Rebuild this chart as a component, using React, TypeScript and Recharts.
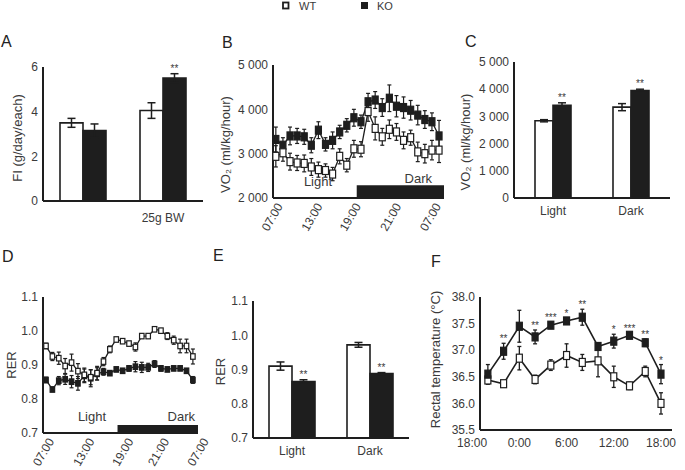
import React from "react";
import {
  BarChart, Bar, LineChart, Line, XAxis, YAxis, ErrorBar, LabelList, ReferenceArea,
} from "recharts";

const INK = "#1e1e1e";
const TXT = "#3a3a3a";
const FONT = "'Liberation Sans', Arial, sans-serif";

// A: food intake
const A_CATS = ["", "25g BW"];
const A_WT = [3.5, 4.05];
const A_WT_ERR = [0.2, 0.35];
const A_KO = [3.15, 5.5];
const A_KO_ERR = [0.3, 0.2];
const A_SIG = ["", "**"];

// B: VO2 over 24 h (hourly, 07:00 -> 07:00)
const B_WT = [2940, 3020, 2820, 2790, 2780, 2700, 2640, 2620, 2540, 2940, 2740, 3110,
  3100, 3950, 3570, 3380, 3550, 3490, 3300, 3360, 3040, 3000, 3080, 3080];
const B_WT_ERR = [240, 190, 190, 170, 190, 190, 170, 150, 150, 170, 150, 190,
  170, 220, 260, 190, 210, 190, 190, 170, 220, 210, 220, 280];
const B_KO = [3320, 3190, 3400, 3400, 3380, 3190, 3530, 3210, 3300, 3490, 3640, 3810,
  3720, 4170, 4210, 4040, 4250, 4070, 4040, 3980, 3870, 3770, 3720, 3400];
const B_KO_ERR = [280, 170, 200, 170, 170, 170, 190, 150, 190, 150, 150, 190,
  150, 190, 190, 200, 300, 240, 240, 220, 220, 200, 200, 350];
const B_XLABELS = ["07:00", "13:00", "19:00", "21:00", "07:00"];
const B_XLABEL_AT = [0.1, 5.7, 11.1, 16.8, 22.4];
const B_DARK_START = 11.4;

// C: VO2 light / dark
const C_CATS = ["Light", "Dark"];
const C_WT = [2840, 3340];
const C_WT_ERR = [40, 130];
const C_KO = [3410, 3950];
const C_KO_ERR = [90, 50];
const C_SIG = ["**", "**"];

// D: RER over 24 h
const D_WT = [0.956, 0.925, 0.92, 0.897, 0.907, 0.882, 0.871, 0.864, 0.876, 0.91, 0.946, 0.975,
  0.97, 0.963, 0.953, 0.985, 0.985, 1.005, 1.001, 0.985, 0.973, 0.956, 0.956, 0.925];
const D_WT_ERR = [0.008, 0.012, 0.018, 0.022, 0.025, 0.022, 0.02, 0.022, 0.02, 0.012, 0.01, 0.006,
  0.006, 0.006, 0.012, 0.006, 0.006, 0.006, 0.006, 0.01, 0.012, 0.02, 0.02, 0.022];
const D_KO = [0.856, 0.828, 0.854, 0.858, 0.851, 0.846, 0.868, 0.861, 0.874, 0.88, 0.876, 0.887,
  0.883, 0.89, 0.895, 0.893, 0.893, 0.903, 0.89, 0.887, 0.89, 0.89, 0.883, 0.856];
const D_KO_ERR = [0.008, 0.006, 0.012, 0.015, 0.018, 0.02, 0.02, 0.025, 0.018, 0.01, 0.006, 0.006,
  0.006, 0.008, 0.015, 0.015, 0.012, 0.01, 0.008, 0.006, 0.006, 0.006, 0.006, 0.01];
const D_XLABELS = ["07:00", "13:00", "19:00", "21:00", "07:00"];
const D_XLABEL_AT = [0.3, 6.6, 12.7, 18.3, 24.5];
const D_DARK_START = 11.2;

// E: RER light / dark
const E_CATS = ["Light", "Dark"];
const E_WT = [0.91, 0.972];
const E_WT_ERR = [0.012, 0.007];
const E_KO = [0.865, 0.888];
const E_KO_ERR = [0.005, 0.003];
const E_SIG = ["**", "**"];

// F: rectal temperature, every 2 h (hours after 18:00)
const F_HOURS = [2, 4, 6, 8, 10, 12, 14, 16, 18, 20, 22, 24];
const F_WT = [36.44, 36.37, 36.85, 36.45, 36.72, 36.9, 36.77, 36.8, 36.5, 36.33, 36.6, 36.0];
const F_WT_ERR = [0.08, 0.05, 0.22, 0.08, 0.1, 0.22, 0.15, 0.3, 0.2, 0.07, 0.1, 0.2];
const F_KO = [36.55, 36.98, 37.45, 37.25, 37.47, 37.55, 37.62, 37.07, 37.17, 37.28, 37.14, 36.55];
const F_KO_ERR = [0.18, 0.15, 0.3, 0.13, 0.06, 0.06, 0.15, 0.06, 0.13, 0.05, 0.07, 0.18];
const F_SIG = ["", "**", "", "**", "***", "*", "**", "", "*", "***", "**", "*"];
const F_XLABELS = ["18:00", "0:00", "6:00", "12:00", "18:00"];
const F_XLABEL_AT = [0, 6, 12, 18, 24];
const F_MINOR = [1, 3, 5, 7, 9, 11, 13, 15, 17, 19, 21, 23, 25];

const fmtK = (v: number) => (v === 0 ? "0" : `${Math.floor(v / 1000)} ${String(v % 1000).padStart(3, "0")}`);
const fmt1 = (v: number) => v.toFixed(1);

const axisLine = { stroke: INK, strokeWidth: 2 };
const tickStyle = { fontSize: 12, fill: TXT, fontFamily: FONT };

const square = (w: number, h: number, fill: string) => (p: any) =>
  p.cx == null ? <g key={`d${p.index}`} /> : (
    <rect key={`d${p.index}`} x={p.cx - w / 2} y={p.cy - h / 2} width={w} height={h}
      fill={fill} stroke={INK} strokeWidth={1.2} />
  );

const barStars = (vals: number[], errs: number[], sigs: string[], base: number) => (p: any) => {
  const vb = p.viewBox || p;
  const i = p.index;
  if (!sigs[i]) return null;
  const ppu = vb.height / (vals[i] - base);
  return (
    <text key={`s${i}`} x={vb.x + vb.width / 2} y={vb.y - errs[i] * ppu - 2} textAnchor="middle"
      fontSize={10} fill={TXT} fontFamily={FONT}>{sigs[i]}</text>
  );
};

function BarPanel(props: any) {
  const { cats, wt, wtErr, ko, koErr, sig, domain, ticks, fmt, yLabel, labelDy, labelX,
    left, top, width, height, margin, yW, xH, barSize, xTickSize, xTickMargin } = props;
  const rows = cats.map((c: string, i: number) => ({ cat: c, wt: wt[i], wtErr: wtErr[i], ko: ko[i], koErr: koErr[i] }));
  return (
    <div style={{ position: "absolute", left, top }}>
      <BarChart width={width} height={height} data={rows} margin={margin} barGap={0} barSize={barSize}>
        {/* small upward ticks on the group boundaries */}
        <XAxis xAxisId="b" type="number" domain={[0, cats.length]} ticks={cats.map((_: string, i: number) => i + 1)}
          interval={0} tick={false} mirror tickSize={4} height={0} axisLine={false}
          tickLine={{ stroke: INK, strokeWidth: 1.5 }} />
        <XAxis dataKey="cat" tickLine={false} axisLine={axisLine} tick={tickStyle} height={xH}
          tickSize={xTickSize} tickMargin={xTickMargin} />
        <YAxis domain={domain} ticks={ticks} tickFormatter={fmt} width={yW} tickLine={false}
          axisLine={axisLine} tick={tickStyle} tickSize={3} tickMargin={2} interval={0}
          label={{ value: yLabel, angle: -90, position: "insideLeft", offset: labelX, dy: labelDy,
            style: { textAnchor: "middle", fontSize: 13, fill: TXT, fontFamily: FONT } }} />
        <Bar dataKey="wt" fill="#fff" stroke={INK} strokeWidth={1.6} isAnimationActive={false}>
          <ErrorBar dataKey="wtErr" width={4} stroke={INK} strokeWidth={1.5} />
        </Bar>
        <Bar dataKey="ko" fill={INK} stroke={INK} strokeWidth={1.6} isAnimationActive={false}>
          <ErrorBar dataKey="koErr" width={4} stroke={INK} strokeWidth={1.5} />
          <LabelList dataKey="ko" content={barStars(ko, koErr, sig, domain[0])} />
        </Bar>
      </BarChart>
    </div>
  );
}

const rotTick = (labels: string[]) => (p: any) => (
  <text key={`t${p.index}`} x={p.x + 3} y={p.y} transform={`rotate(-60 ${p.x + 3} ${p.y})`}
    textAnchor="end" dy="0.35em" fontSize={12} fill={TXT} fontFamily={FONT}>{labels[p.index]}</text>
);

function TimePanel(props: any) {
  const { wt, wtErr, ko, koErr, xDomain, labelAt, labels, minor, darkStart, darkTop,
    yDomain, yTicks, fmt, yLabel, labelDy, labelX, mw, mh,
    left, top, width, height, margin, yW, xH } = props;
  const rows = wt.map((v: number, i: number) => ({ i, wt: v, wtErr: wtErr[i], ko: ko[i], koErr: koErr[i] }));
  return (
    <div style={{ position: "absolute", left, top }}>
      <LineChart width={width} height={height} data={rows} margin={margin}>
        <XAxis xAxisId="m" type="number" dataKey="i" domain={xDomain} ticks={minor} interval={0}
          tick={false} mirror tickSize={3} height={0} axisLine={false}
          tickLine={{ stroke: INK, strokeWidth: 1.2 }} />
        <XAxis xAxisId="l" type="number" dataKey="i" domain={xDomain} ticks={labelAt} interval={0}
          tick={rotTick(labels)} tickLine={false} tickSize={0} tickMargin={6} height={xH}
          axisLine={axisLine} />
        <YAxis domain={yDomain} ticks={yTicks} tickFormatter={fmt} width={yW} tickLine={false}
          axisLine={axisLine} tick={tickStyle} tickSize={3} tickMargin={2} interval={0}
          label={{ value: yLabel, angle: -90, position: "insideLeft", offset: labelX, dy: labelDy,
            style: { textAnchor: "middle", fontSize: 13, fill: TXT, fontFamily: FONT } }} />
        <ReferenceArea xAxisId="l" x1={darkStart} x2={xDomain[1]} y1={yDomain[0]} y2={darkTop}
          fill={INK} fillOpacity={1} stroke="none" />
        <Line xAxisId="l" dataKey="ko" stroke={INK} strokeWidth={1.3} dot={square(mw, mh, INK)}
          activeDot={false} isAnimationActive={false}>
          <ErrorBar dataKey="koErr" width={2} stroke={INK} strokeWidth={1.2} />
        </Line>
        <Line xAxisId="l" dataKey="wt" stroke={INK} strokeWidth={1.3} dot={square(mw, mh, "#fff")}
          activeDot={false} isAnimationActive={false}>
          <ErrorBar dataKey="wtErr" width={2} stroke={INK} strokeWidth={1.2} />
        </Line>
      </LineChart>
    </div>
  );
}

function TempPanel() {
  const rows = F_HOURS.map((h, i) => ({
    h, wt: F_WT[i], wtErr: F_WT_ERR[i], ko: F_KO[i], koErr: F_KO_ERR[i], koTop: F_KO[i] + F_KO_ERR[i],
  }));
  const dom = [1, 25.4];
  const stars = (p: any) => {
    const vb = p.viewBox || p;
    const x = p.x ?? vb.x;
    const y = p.y ?? vb.y;
    const s = F_SIG[p.index];
    if (!s) return null;
    return <text key={`fs${p.index}`} x={x} y={y - 1} textAnchor="middle" fontSize={10} fill={TXT}
      fontFamily={FONT}>{s}</text>;
  };
  return (
    <div style={{ position: "absolute", left: 420, top: 287 }}>
      <LineChart width={265} height={183} data={rows} margin={{ top: 10, right: 13, bottom: 0, left: 0 }}>
        <XAxis xAxisId="m" type="number" dataKey="h" domain={dom} ticks={F_MINOR} interval={0}
          tick={false} mirror tickSize={5} height={0} axisLine={false}
          tickLine={{ stroke: INK, strokeWidth: 2 }} />
        <XAxis xAxisId="l" type="number" dataKey="h" domain={dom} ticks={F_XLABEL_AT} interval={0}
          tickFormatter={(_: any, i: number) => F_XLABELS[i]} tick={tickStyle} tickLine={false}
          tickSize={0} tickMargin={8} height={40} axisLine={axisLine} />
        <YAxis domain={[35.5, 38]} ticks={[35.5, 36, 36.5, 37, 37.5, 38]} tickFormatter={fmt1} width={60}
          tickLine={false} axisLine={axisLine} tick={tickStyle} tickSize={3} tickMargin={2} interval={0}
          label={{ value: "Rectal temperature (°C)", angle: -90, position: "insideLeft", offset: 15, dy: -4,
            style: { textAnchor: "middle", fontSize: 13, fill: TXT, fontFamily: FONT } }} />
        <Line xAxisId="l" dataKey="wt" stroke={INK} strokeWidth={1.6} dot={square(6, 8, "#fff")}
          activeDot={false} isAnimationActive={false}>
          <ErrorBar dataKey="wtErr" width={2} stroke={INK} strokeWidth={1.3} />
        </Line>
        <Line xAxisId="l" dataKey="ko" stroke={INK} strokeWidth={1.6} dot={square(6, 8, INK)}
          activeDot={false} isAnimationActive={false}>
          <ErrorBar dataKey="koErr" width={2} stroke={INK} strokeWidth={1.3} />
        </Line>
        <Line xAxisId="l" dataKey="koTop" stroke="none" dot={false} activeDot={false} isAnimationActive={false}>
          <LabelList dataKey="koTop" content={stars} />
        </Line>
      </LineChart>
    </div>
  );
}

export default function App() {
  const letter = { fontSize: 16, fill: "#222", fontFamily: FONT };
  const note = { fontSize: 13, fill: TXT, fontFamily: FONT };
  return (
    <div style={{ position: "absolute", left: 0, top: 0, width: 685, height: 470, background: "#fff", overflow: "hidden" }}>
      <BarPanel cats={A_CATS} wt={A_WT} wtErr={A_WT_ERR} ko={A_KO} koErr={A_KO_ERR} sig={A_SIG}
        domain={[0, 6]} ticks={[0, 2, 4, 6]} fmt={(v: number) => String(v)} yLabel="FI (g/day/each)"
        labelX={17} labelDy={4} left={0} top={60} width={215} height={170}
        margin={{ top: 7, right: 12, bottom: 0, left: 0 }} yW={43} xH={29} barSize={23}
        xTickSize={6} xTickMargin={6} />
      <TimePanel wt={B_WT} wtErr={B_WT_ERR} ko={B_KO} koErr={B_KO_ERR} xDomain={[-0.4, 23.7]}
        labelAt={B_XLABEL_AT} labels={B_XLABELS} minor={Array.from({ length: 14 }, (_, k) => k * 0.82)}
        darkStart={B_DARK_START} darkTop={2290} yDomain={[2000, 5000]} yTicks={[2000, 3000, 4000, 5000]}
        fmt={fmtK} yLabel="VO₂ (ml/kg/hour)" labelX={10} labelDy={13} mw={6} mh={8}
        left={215} top={55} width={240} height={190} margin={{ top: 10, right: 11, bottom: 0, left: 0 }}
        yW={58} xH={47} />
      <BarPanel cats={C_CATS} wt={C_WT} wtErr={C_WT_ERR} ko={C_KO} koErr={C_KO_ERR} sig={C_SIG}
        domain={[0, 5000]} ticks={[0, 1000, 2000, 3000, 4000, 5000]} fmt={fmtK} yLabel="VO₂ (ml/kg/hour)"
        labelX={10} labelDy={12} left={455} top={52} width={225} height={175}
        margin={{ top: 10, right: 10, bottom: 0, left: 0 }} yW={59} xH={29} barSize={18}
        xTickSize={4} xTickMargin={4} />
      <TimePanel wt={D_WT} wtErr={D_WT_ERR} ko={D_KO} koErr={D_KO_ERR} xDomain={[-0.47, 23.8]}
        labelAt={D_XLABEL_AT} labels={D_XLABELS} minor={Array.from({ length: 14 }, (_, k) => 0.1 + k * 0.83)}
        darkStart={D_DARK_START} darkTop={0.7235} yDomain={[0.7, 1.1]} yTicks={[0.7, 0.8, 0.9, 1.0, 1.1]}
        fmt={fmt1} yLabel="RER" labelX={11} labelDy={0} mw={4.5} mh={5.5}
        left={0} top={287} width={222} height={183} margin={{ top: 10, right: 24, bottom: 0, left: 0 }}
        yW={43} xH={37} />
      <BarPanel cats={E_CATS} wt={E_WT} wtErr={E_WT_ERR} ko={E_KO} koErr={E_KO_ERR} sig={E_SIG}
        domain={[0.7, 1.1]} ticks={[0.7, 0.8, 0.9, 1.0, 1.1]} fmt={fmt1} yLabel="RER"
        labelX={10} labelDy={2} left={210} top={291} width={210} height={170}
        margin={{ top: 10, right: 11, bottom: 0, left: 0 }} yW={43} xH={23} barSize={23}
        xTickSize={4} xTickMargin={4} />
      <TempPanel />
      <svg width={685} height={470} style={{ position: "absolute", left: 0, top: 0, pointerEvents: "none" }}>
        <rect x={283} y={2.5} width={5.5} height={6} fill="#fff" stroke={INK} strokeWidth={1.8} />
        <text x={299} y={10} fontSize={11} fill={TXT} fontFamily={FONT}>WT</text>
        <rect x={361} y={2} width={7} height={7} fill={INK} />
        <text x={377} y={10} fontSize={11} fill={TXT} fontFamily={FONT}>KO</text>
        <text x={1} y={47} {...letter}>A</text>
        <text x={222} y={48} {...letter}>B</text>
        <text x={465} y={47} {...letter}>C</text>
        <text x={2} y={262} {...letter}>D</text>
        <text x={213} y={261} {...letter}>E</text>
        <text x={431} y={267} {...letter}>F</text>
        <text x={318} y={186} textAnchor="middle" {...note}>Light</text>
        <text x={432} y={183} textAnchor="end" {...note}>Dark</text>
        <text x={92} y={421} textAnchor="middle" {...note}>Light</text>
        <text x={195} y={421} textAnchor="end" {...note}>Dark</text>
      </svg>
    </div>
  );
}
